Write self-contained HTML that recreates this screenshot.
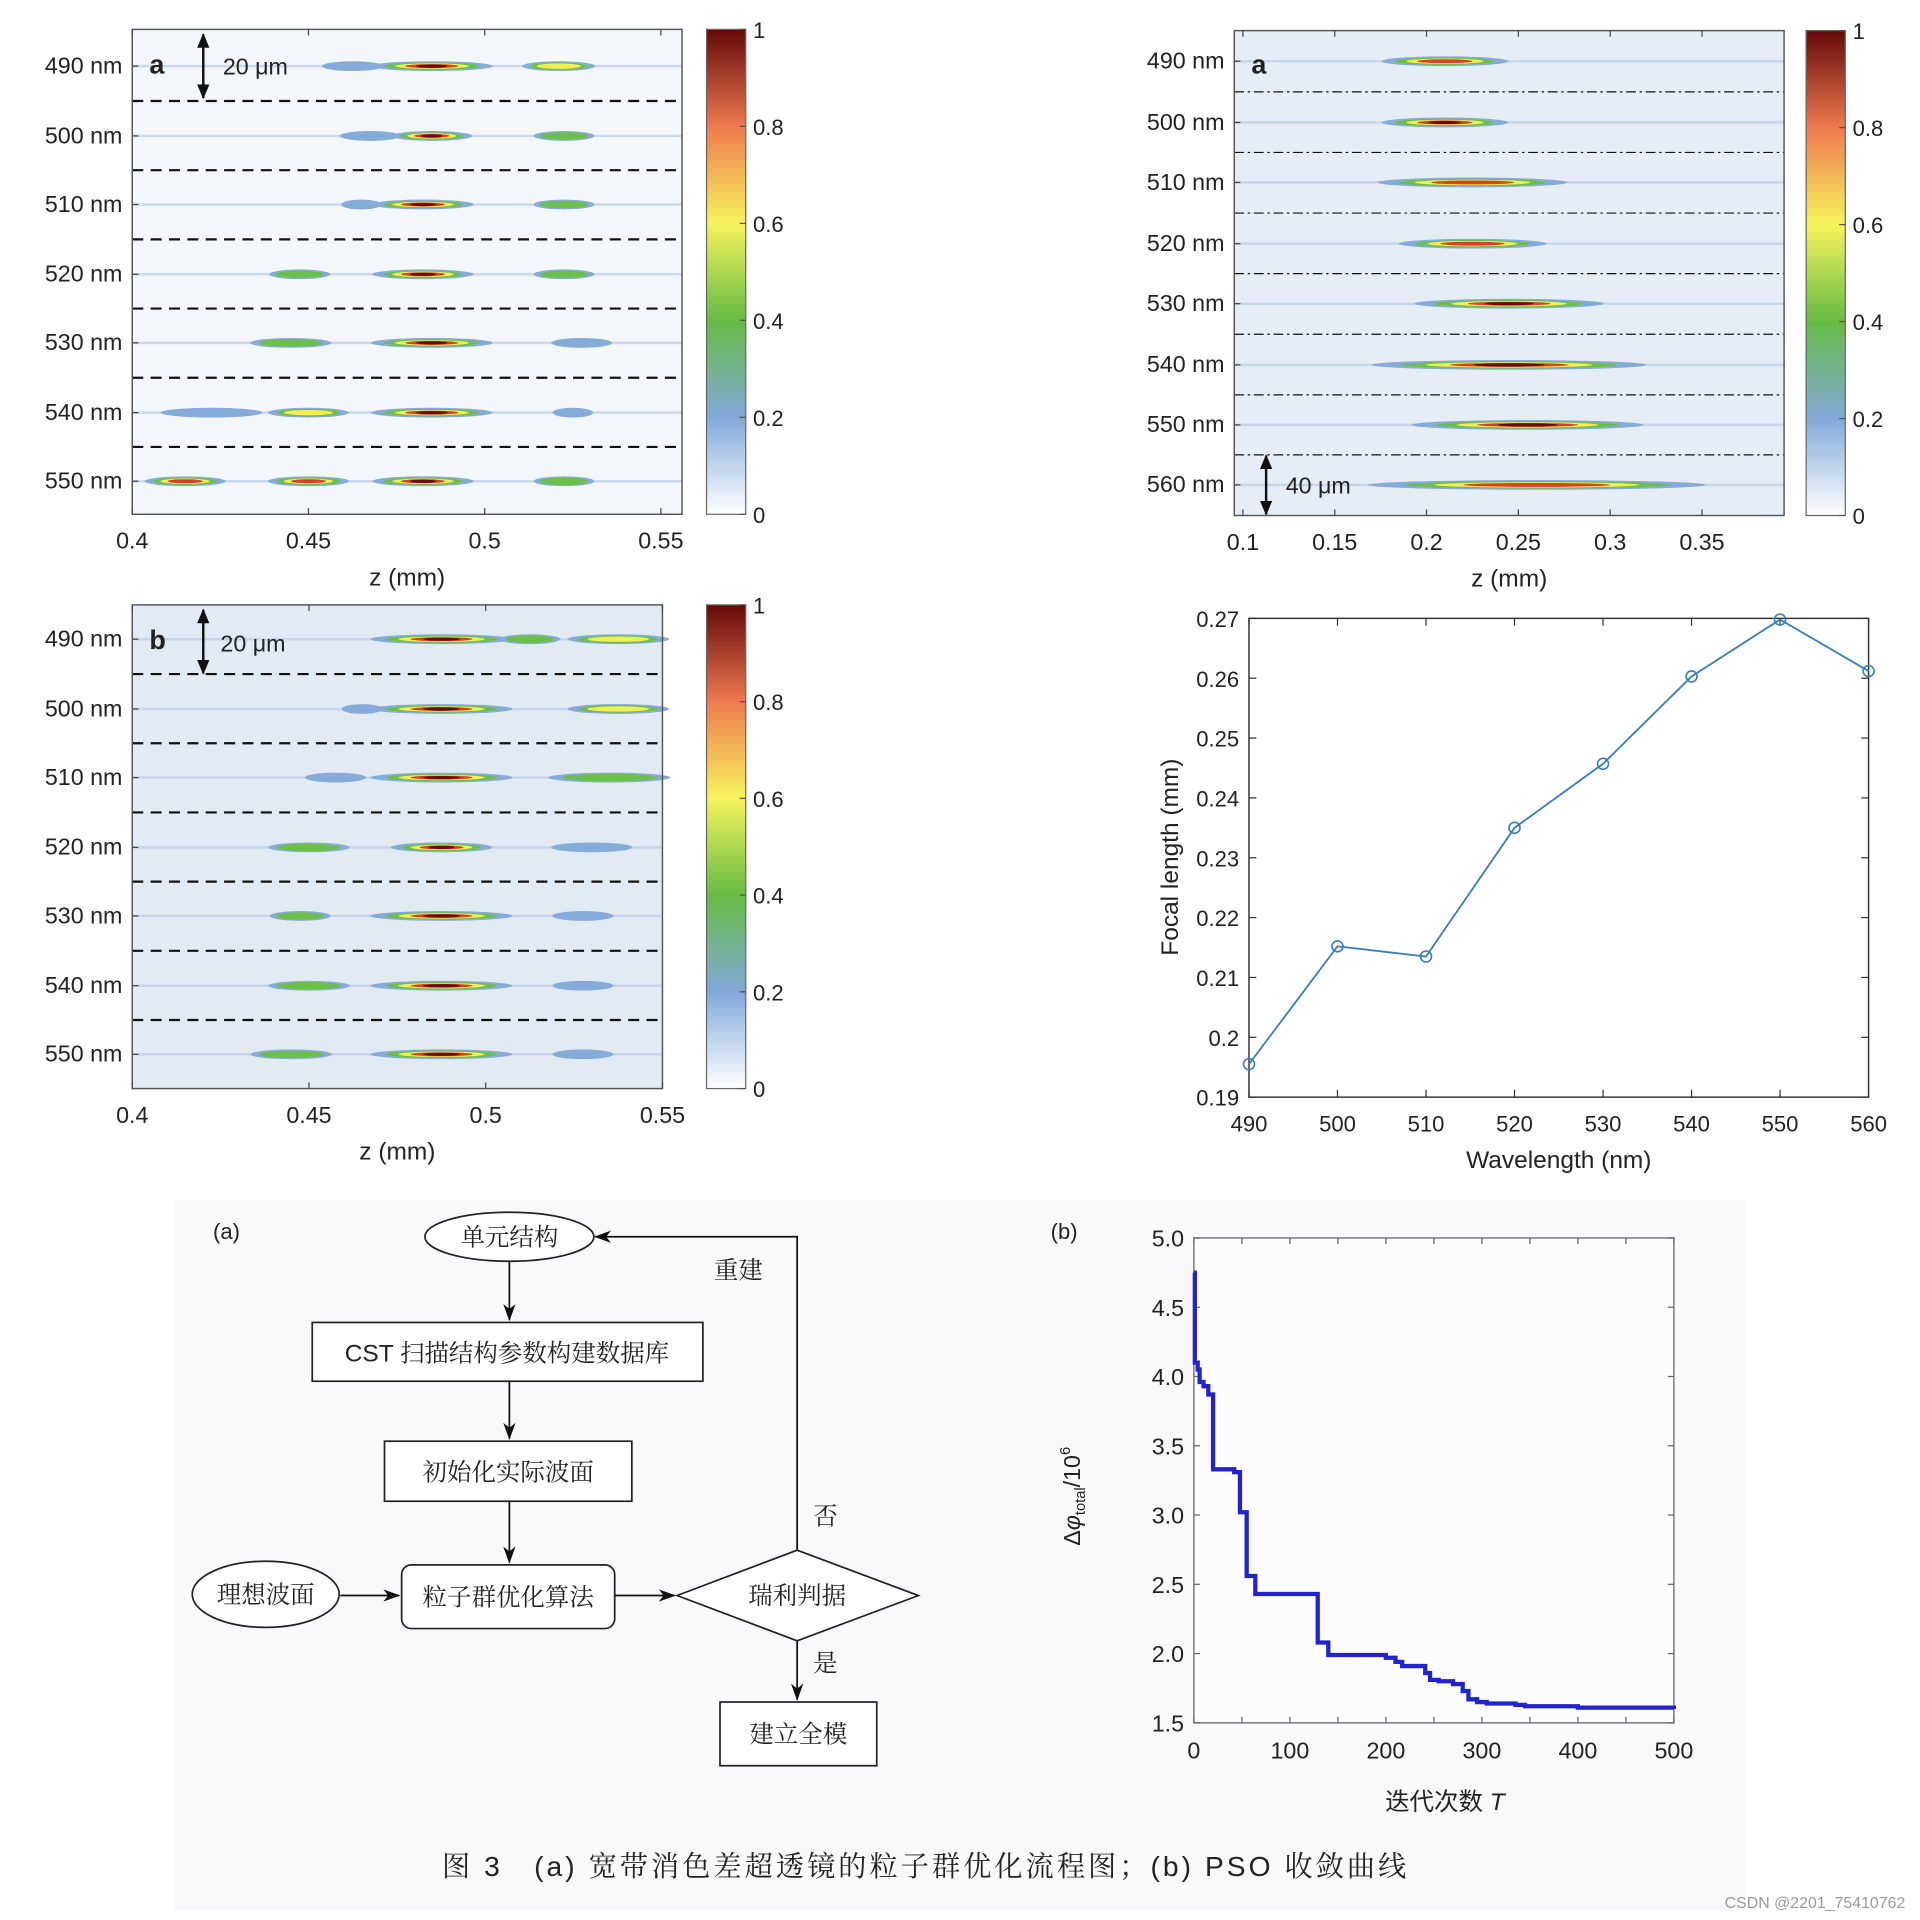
<!DOCTYPE html>
<html><head><meta charset="utf-8">
<style>
html,body{margin:0;padding:0;background:#fff;}
svg{display:block;}
text{font-family:"Liberation Sans","Noto Sans CJK SC",sans-serif;fill:#222;}
.cjk{font-family:"Liberation Serif","Noto Serif CJK SC",serif;}
.mix{font-family:"Liberation Sans","Noto Serif CJK SC",serif;}
</style></head>
<body>
<svg id="fig" width="1920" height="1920" viewBox="0 0 1568 1568" xmlns="http://www.w3.org/2000/svg">
<defs>
<linearGradient id="cbar" x1="0" y1="1" x2="0" y2="0">
<stop offset="0" stop-color="#ffffff"/><stop offset="0.2" stop-color="#82a9da"/>
<stop offset="0.4" stop-color="#66bb44"/><stop offset="0.6" stop-color="#f6f45c"/>
<stop offset="0.8" stop-color="#ef7a50"/><stop offset="1" stop-color="#640808"/>
</linearGradient>
<marker id="ah" markerWidth="14" markerHeight="10" refX="13" refY="5" orient="auto" markerUnits="userSpaceOnUse">
<path d="M0,0 L14,5 L0,10 L4,5 Z" fill="#111"/></marker>
<marker id="dh" markerWidth="12" markerHeight="10" refX="11" refY="5" orient="auto-start-reverse" markerUnits="userSpaceOnUse">
<path d="M0,0 L12,5 L0,10 Z" fill="#111"/></marker>
</defs>
<rect x="143" y="980" width="1282" height="580" fill="#f9f8fa"/>
<g id="root"></g>
</svg>
<script>
// ---- data ----
const wlA = ['490 nm','500 nm','510 nm','520 nm','530 nm','540 nm','550 nm'];
const wlRA = ['490 nm','500 nm','510 nm','520 nm','530 nm','540 nm','550 nm','560 nm'];
const blobsTL = [
 [[0.455,0.47,0.25],[0.47,0.5,1.0],[0.512,0.53,0.7]],
 [[0.46,0.475,0.2],[0.475,0.495,0.95],[0.515,0.53,0.5]],
 [[0.46,0.47,0.2],[0.47,0.495,0.95],[0.515,0.53,0.4]],
 [[0.44,0.455,0.4],[0.47,0.495,1.0],[0.515,0.53,0.4]],
 [[0.435,0.455,0.55],[0.47,0.5,1.0],[0.52,0.535,0.25]],
 [[0.41,0.435,0.25],[0.44,0.46,0.6],[0.47,0.5,0.95],[0.52,0.53,0.25]],
 [[0.405,0.425,0.9],[0.44,0.46,0.8],[0.47,0.495,1.0],[0.515,0.53,0.4]]
];
const blobsBL = [
 [[0.47,0.505,0.95],[0.505,0.52,0.45],[0.525,0.55,0.65]],
 [[0.46,0.47,0.3],[0.47,0.505,1.0],[0.525,0.55,0.7]],
 [[0.45,0.465,0.3],[0.47,0.505,0.95],[0.52,0.55,0.45]],
 [[0.44,0.46,0.45],[0.475,0.5,0.95],[0.52,0.54,0.3]],
 [[0.44,0.455,0.5],[0.47,0.505,1.0],[0.52,0.535,0.3]],
 [[0.44,0.46,0.5],[0.47,0.505,1.0],[0.52,0.535,0.3]],
 [[0.435,0.455,0.5],[0.47,0.505,1.0],[0.52,0.535,0.3]]
];
const blobsTR = [
 [[0.18,0.24,0.9]],[[0.18,0.24,1.0]],[[0.18,0.27,0.85]],[[0.19,0.26,0.9]],
 [[0.2,0.29,1.0]],[[0.18,0.31,0.95]],[[0.2,0.31,1.0]],[[0.18,0.34,0.9]]
];
const flWave = [490,500,510,520,530,540,550,560];
const flValue = [0.1955,0.2152,0.2135,0.2350,0.2457,0.2603,0.2698,0.2612];
const flYTicks = [0.19,0.2,0.21,0.22,0.23,0.24,0.25,0.26,0.27];
const psoIter = [0,1,4,6,10,15,20,40,42,48,55,64,129,140,197,200,210,217,241,246,255,270,280,286,295,305,335,345,400,450,500];
const psoVal = [4.75,4.1,4.05,3.96,3.93,3.87,3.33,3.33,3.31,3.02,2.56,2.43,2.08,1.99,1.99,1.97,1.94,1.91,1.86,1.81,1.80,1.78,1.73,1.67,1.65,1.64,1.63,1.62,1.61,1.61,1.60];
const psoXTicks = [0,100,200,300,400,500];
const psoYTicks = [1.5,2.0,2.5,3.0,3.5,4.0,4.5,5.0];

const NS='http://www.w3.org/2000/svg';
const root=document.getElementById('root');
function mk(tag,attrs,parent,txt){const e=document.createElementNS(NS,tag);for(const k in attrs)e.setAttribute(k,attrs[k]);if(txt!==undefined)e.textContent=txt;(parent||root).appendChild(e);return e;}

function heatmap(name,x0,y0,w,h,zmin,zmax,rows,rowY,blobs,xt,xtl,bg,dash,cbx){
  const g=mk('g',{});
  
  
  const sx=z=>x0+(z-zmin)/(zmax-zmin)*w;
  mk('rect',{x:x0,y:y0,width:w,height:h,fill:bg},g);
  rows.forEach((lab,i)=>{
    const y=rowY[i];
    mk('line',{x1:x0,x2:x0+w,y1:y,y2:y,stroke:'#b9cce6','stroke-width':2,opacity:0.7},g);
    blobs[i].forEach(b=>{
      const a=sx(b[0]),c=sx(b[1]),cx=(a+c)/2,rw=(c-a)/2,I=b[2];
      const e0=mk('ellipse',{cx:cx,cy:y,rx:rw*1.15,ry:4,fill:'#85abd9'},g);
      
      
      if(I>0.35)mk('ellipse',{cx:cx,cy:y,rx:rw*0.9,ry:3,fill:'#6cbf48'},g);
      if(I>0.55)mk('ellipse',{cx:cx,cy:y,rx:rw*0.7,ry:2.2,fill:'#f2ef55'},g);
      if(I>0.75)mk('ellipse',{cx:cx,cy:y,rx:rw*0.5,ry:1.6,fill:'#d8402a'},g);
      if(I>0.93)mk('ellipse',{cx:cx,cy:y,rx:rw*0.3,ry:1.3,fill:'#6a0a0a'},g);
    });
    const t=mk('text',{x:x0-8,y:y+6,'text-anchor':'end','font-size':19},g,lab);
    
    
    mk('line',{x1:x0,x2:x0+5,y1:y,y2:y,stroke:'#444'},g);
    if(i<rows.length-1){
      const dy=(y+rowY[i+1])/2;
      const d=mk('line',{x1:x0,x2:x0+w,y1:dy,y2:dy,stroke:'#111','stroke-width':dash?1.8:1,'stroke-dasharray':dash?'9,6':'8,3,2,3'},g);
      
      
    }
  });
  mk('rect',{x:x0,y:y0,width:w,height:h,fill:'none',stroke:'#555','stroke-width':1.2},g);
  xt.forEach((v,i)=>{
    const x=sx(v);
    mk('line',{x1:x,x2:x,y1:y0+h,y2:y0+h-5,stroke:'#444'},g);
    mk('line',{x1:x,x2:x,y1:y0,y2:y0+5,stroke:'#444'},g);
    const t=mk('text',{x:x,y:y0+h+28,'text-anchor':'middle','font-size':19},g,xtl[i]);
    
    
  });
  const xl=mk('text',{x:x0+w/2,y:y0+h+58,'text-anchor':'middle','font-size':20},g,'z (mm)');
  
  
  const cb=mk('g',{},g);
  
  
  mk('rect',{x:cbx,y:y0,width:32,height:h,fill:'url(#cbar)',stroke:'#666'},cb);
  [0,0.2,0.4,0.6,0.8,1].forEach(v=>{
    const y=y0+h-v*h;
    mk('line',{x1:cbx+32,x2:cbx+27,y1:y,y2:y,stroke:'#555'},cb);
    mk('text',{x:cbx+38,y:y+7,'font-size':18},cb,v===0?'0':v===1?'1':String(v));
  });
  return {g,sx};
}
heatmap('heatmap-top-left',108,24,449,396,0.4,0.556,wlA,[54,111,167,224,280,337,393],blobsTL,[0.4,0.45,0.5,0.55],['0.4','0.45','0.5','0.55'],'#f3f6fa',true,577);
heatmap('heatmap-bottom-left',108,494,433,395,0.4,0.55,wlA,[522,579,635,692,748,805,861],blobsBL,[0.4,0.45,0.5,0.55],['0.4','0.45','0.5','0.55'],'#e2eaf4',true,577);
heatmap('heatmap-top-right',1008,25,449,396,0.0953,0.3947,wlRA,[50,100,149,199,248,298,347,396],blobsTR,[0.1,0.15,0.2,0.25,0.3,0.35],['0.1','0.15','0.2','0.25','0.3','0.35'],'#e6edf6',false,1475);
function lab(x,y,s,size,bold){const t=mk('text',{x:x,y:y,'font-size':size||22,'font-weight':bold?'bold':'normal'},root,s);return t;}
lab(122,60,'a',22,true);lab(122,530,'b',22,true);lab(1022,60,'a',22,true);lab(1034,540,'b',22,true);
function scale(x,y1,y2,tx,ty,s){const l=mk('line',{x1:x,x2:x,y1:y1,y2:y2,stroke:'#111','stroke-width':2,'marker-start':'url(#dh)','marker-end':'url(#dh)'});
 const t=mk('text',{x:tx,y:ty,'font-size':19},root,s);}
scale(166,28,80,182,61,'20 μm');scale(166,498,550,180,532,'20 μm');scale(1034,372,420,1050,403,'40 μm');

(function(){
 const g=mk('g',{});
 const X0=1020,X1=1526,Y0=505,Y1=896;
 const sx=v=>X0+(v-490)/70*(X1-X0), sy=v=>Y1-(v-0.19)/0.08*(Y1-Y0);
 mk('rect',{x:X0,y:Y0,width:X1-X0,height:Y1-Y0,fill:'#fff',stroke:'#333','stroke-width':1.2},g);
 flWave.forEach(w=>{const x=sx(w);mk('line',{x1:x,x2:x,y1:Y1,y2:Y1-6,stroke:'#333'},g);mk('line',{x1:x,x2:x,y1:Y0,y2:Y0+6,stroke:'#333'},g);
   const t=mk('text',{x:x,y:Y1+28,'text-anchor':'middle','font-size':18},g,String(w));});
 flYTicks.forEach(v=>{const y=sy(v);mk('line',{x1:X0,x2:X0+6,y1:y,y2:y,stroke:'#333'},g);mk('line',{x1:X1,x2:X1-6,y1:y,y2:y,stroke:'#333'},g);
   const t=mk('text',{x:X0-8,y:y+7,'text-anchor':'end','font-size':18},g,String(Math.round(v*100)/100));});
 const pts=flWave.map((w,i)=>sx(w)+','+sy(flValue[i])).join(' ');
 const pl=mk('polyline',{points:pts,fill:'none',stroke:'#3a7fb8','stroke-width':1.5},g);
 
 flWave.forEach((w,i)=>{const c=mk('circle',{cx:sx(w),cy:sy(flValue[i]),r:4.5,fill:'none',stroke:'#3a7fb8','stroke-width':1.3},g);});
 const xt=mk('text',{x:(X0+X1)/2,y:Y1+58,'text-anchor':'middle','font-size':20},g,'Wavelength (nm)');
 const yt=mk('text',{x:0,y:0,'text-anchor':'middle','font-size':20,transform:'translate(962,700) rotate(-90)'},g,'Focal length (mm)');
})();

(function(){
 const g=mk('g',{});
 const X0=975,X1=1367,Y0=1011,Y1=1407;
 const sx=v=>X0+v/500*(X1-X0), sy=v=>Y1-(v-1.5)/3.5*(Y1-Y0);
 mk('rect',{x:X0,y:Y0,width:X1-X0,height:Y1-Y0,fill:'#fdfcfd',stroke:'#777','stroke-width':1.2},g);
 [0,50,100,150,200,250,300,350,400,450,500].forEach(v=>{const x=sx(v);mk('line',{x1:x,x2:x,y1:Y1,y2:Y1-5,stroke:'#666'},g);mk('line',{x1:x,x2:x,y1:Y0,y2:Y0+5,stroke:'#666'},g);});
 psoXTicks.forEach(v=>{const t=mk('text',{x:sx(v),y:Y1+29,'text-anchor':'middle','font-size':19},g,String(v));});
 psoYTicks.forEach(v=>{const y=sy(v);mk('line',{x1:X0,x2:X0+5,y1:y,y2:y,stroke:'#666'},g);mk('line',{x1:X1,x2:X1-5,y1:y,y2:y,stroke:'#666'},g);
   const t=mk('text',{x:X0-8,y:y+7,'text-anchor':'end','font-size':19},g,v.toFixed(1));});
 let d='M'+sx(psoIter[0])+','+sy(psoVal[0]);
 for(let i=1;i<psoIter.length;i++){d+=' V'+sy(psoVal[i-1])+' H'+sx(psoIter[i])+' V'+sy(psoVal[i]);}
 const p=mk('path',{d:d,fill:'none',stroke:'#2323cc','stroke-width':3.5},g);
 
 const xt=mk('text',{x:1180,y:1478,'text-anchor':'middle','font-size':20},g);
 xt.innerHTML='迭代次数 <tspan font-style="italic">T</tspan>';
 const yt=mk('text',{x:0,y:0,'text-anchor':'middle','font-size':19,transform:'translate(882,1222) rotate(-90)'},g);
 yt.innerHTML='Δ<tspan font-style="italic">φ</tspan><tspan font-size="12" dy="4">total</tspan><tspan dy="-4">/10</tspan><tspan font-size="12" dy="-8">6</tspan>';
 const bl=mk('text',{x:858,y:1012,'font-size':18},root,'(b)');
})();

(function(){
 const g=mk('g',{});
 const S={fill:'#fff',stroke:'#222','stroke-width':1.4};
 function node(name,shape,attrs,tx,ty,label,cls){const n=mk('g',{},g);
   mk(shape,Object.assign({},S,attrs),n);mk('text',{x:tx,y:ty,'text-anchor':'middle','font-size':20,class:cls||'cjk'},n,label);}
 function arrow(name,x1,y1,x2,y2){const a=mk('line',{x1:x1,y1:y1,x2:x2,y2:y2,stroke:'#111','stroke-width':1.4,'marker-end':'url(#ah)'},g);}
 node('unit-structure-node','ellipse',{cx:416,cy:1010,rx:69,ry:20},416,1017,'单元结构');
 node('cst-database-node','rect',{x:255,y:1080,width:319,height:48},414,1112,'CST 扫描结构参数构建数据库','mix');
 node('init-wavefront-node','rect',{x:314,y:1177,width:202,height:49},415,1209,'初始化实际波面');
 node('pso-algorithm-node','rect',{x:328,y:1278,width:174,height:52,rx:8},415,1311,'粒子群优化算法');
 node('ideal-wavefront-node','ellipse',{cx:217,cy:1302,rx:60,ry:27},217,1309,'理想波面');
 node('rayleigh-criterion-node','polygon',{points:'553,1303 651,1266 750,1303 651,1340'},651,1310,'瑞利判据');
 node('full-model-node','rect',{x:588,y:1390,width:128,height:52},652,1423,'建立全模');
 arrow('arrow-1',416,1030,416,1078);arrow('arrow-2',416,1128,416,1175);arrow('arrow-3',416,1226,416,1276);
 arrow('arrow-ideal',278,1303,326,1303);arrow('arrow-pso',502,1303,551,1303);arrow('arrow-yes',651,1340,651,1388);
 const fb=mk('polyline',{points:'651,1266 651,1010 486,1010',fill:'none',stroke:'#111','stroke-width':1.4,'marker-end':'url(#ah)'},g);
 
 [['重建',603,1044],['否',674,1245],['是',674,1365]].forEach(a=>{const t=mk('text',{x:a[1],y:a[2],'text-anchor':'middle','font-size':20,class:'cjk'},g,a[0]);});
 const al=mk('text',{x:174,y:1012,'font-size':18},g,'(a)');
})();
const cap=mk('text',{x:756,y:1532,'text-anchor':'middle','font-size':23,'letter-spacing':'2.5',class:'mix'},root,'图 3　(a) 宽带消色差超透镜的粒子群优化流程图；(b) PSO 收敛曲线');

const wm=mk('text',{x:1556,y:1558,'text-anchor':'end','font-size':13},root,'CSDN @2201_75410762');

wm.style.fill='#9a9a9a';
</script>
</body></html>
